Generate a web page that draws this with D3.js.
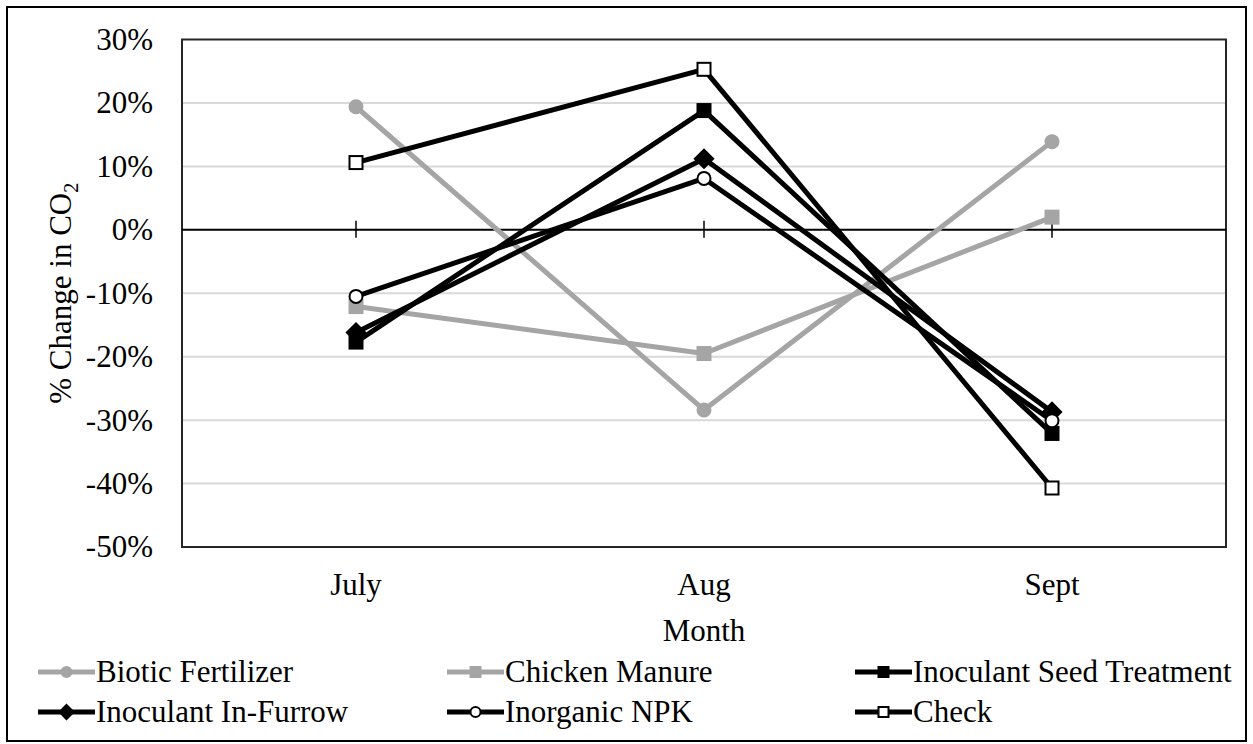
<!DOCTYPE html>
<html>
<head>
<script src="https://cdn.jsdelivr.net/npm/d3@7"></script>
</head>
<body style="margin:0">
<svg id="chart" width="1253" height="744"></svg>
<script>
// data
const months = ['July', 'Aug', 'Sept'];
const yTicks = [0.3, 0.2, 0.1, 0, -0.1, -0.2, -0.3, -0.4, -0.5];

const bioticFertilizer = [0.194, -0.284, 0.139];
const chickenManure = [-0.121, -0.195, 0.020];
const seedTreatment = [-0.177, 0.188, -0.321];
const inFurrow = [-0.162, 0.112, -0.287];
const inorganicNPK = [-0.105, 0.081, -0.301];
const check = [0.106, 0.253, -0.407];

const seriesNames = ['Biotic Fertilizer', 'Chicken Manure', 'Inoculant Seed Treatment',
                     'Inoculant In-Furrow', 'Inorganic NPK', 'Check'];
const seriesValues = [bioticFertilizer, chickenManure, seedTreatment, inFurrow, inorganicNPK, check];

const styles = [
    { color: '#a5a5a5', marker: 'circle', fill: '#a5a5a5' },
    { color: '#a5a5a5', marker: 'square', fill: '#a5a5a5' },
    { color: '#000', marker: 'square', fill: '#000' },
    { color: '#000', marker: 'diamond', fill: '#000' },
    { color: '#000', marker: 'circle', fill: '#fff' },
    { color: '#000', marker: 'square', fill: '#fff' }
];

const FONT = 'Liberation Serif';
const width = 1253, height = 744;
const margin = { top: 39.5, right: 27, bottom: 197, left: 182 };

const svg = d3.select('#chart')
    .attr('font-family', FONT);

// text helper so every label carries the serif face itself
function label(sel, size) {
    return sel.attr('font-family', FONT)
        .style('font-family', `"${FONT}"`)
        .style('font-size', size + 'px');
}

// outer chart border
svg.append('rect')
    .attr('x', 7).attr('y', 7)
    .attr('width', width - 14).attr('height', height - 10)
    .attr('fill', '#fff')
    .attr('stroke', '#000')
    .attr('stroke-width', 2);

const innerW = width - margin.left - margin.right;
const innerH = height - margin.top - margin.bottom;

const chart = svg.append('g')
    .attr('transform', `translate(${margin.left}, ${margin.top})`);

const xscale = d3.scalePoint()
    .domain(months)
    .range([0, innerW])
    .padding(0.5);

const yscale = d3.scaleLinear()
    .domain([-0.5, 0.3])
    .range([innerH, 0]);

// gridlines
chart.append('g')
    .selectAll('line')
    .data(yTicks.filter(d => d !== 0 && d !== 0.3 && d !== -0.5))
    .join('line')
    .attr('x1', 0).attr('x2', innerW)
    .attr('y1', d => yscale(d)).attr('y2', d => yscale(d))
    .attr('stroke', '#d9d9d9')
    .attr('stroke-width', 2);

// y axis labels (plain hyphen for the minus, like the reference)
const pct = d => Math.round(d * 100) + '%';
const yaxis = d3.axisLeft(yscale)
    .tickValues(yTicks)
    .tickFormat(pct)
    .tickSize(0)
    .tickPadding(29);

const yg = chart.append('g')
    .call(yaxis)
    .attr('font-family', FONT)
    .call(g => g.select('.domain').remove());
label(yg.selectAll('text'), 31).attr('fill', '#000');

// plot area border
chart.append('rect')
    .attr('width', innerW).attr('height', innerH)
    .attr('fill', 'none')
    .attr('stroke', '#262626')
    .attr('stroke-width', 2);

// zero axis with cross ticks
chart.append('line')
    .attr('x1', 0).attr('x2', innerW)
    .attr('y1', yscale(0)).attr('y2', yscale(0))
    .attr('stroke', '#000')
    .attr('stroke-width', 2);

chart.append('g')
    .selectAll('line')
    .data(months)
    .join('line')
    .attr('x1', d => xscale(d)).attr('x2', d => xscale(d))
    .attr('y1', yscale(0) - 9).attr('y2', yscale(0) + 8)
    .attr('stroke', '#000')
    .attr('stroke-width', 1.5);

// x category labels
label(chart.append('g')
    .selectAll('text')
    .data(months)
    .join('text'), 31)
    .attr('x', d => xscale(d))
    .attr('y', innerH + 48)
    .attr('text-anchor', 'middle')
    .text(d => d);

// axis titles
label(svg.append('text'), 31)
    .attr('x', margin.left + innerW / 2)
    .attr('y', 641)
    .attr('text-anchor', 'middle')
    .text('Month');

const ytitle = label(svg.append('text'), 31)
    .attr('transform', `translate(71, ${margin.top + innerH / 2}) rotate(-90)`)
    .attr('text-anchor', 'middle');
ytitle.append('tspan').text('% Change in CO');
ytitle.append('tspan').attr('dy', 7).style('font-size', '20px').text('2');

// markers
function drawMarker(g, type, x, y, fill, stroke, s) {
    if (type === 'circle') {
        g.append('circle')
            .attr('cx', x).attr('cy', y).attr('r', s / 2)
            .attr('fill', fill).attr('stroke', stroke).attr('stroke-width', 2);
    } else if (type === 'square') {
        g.append('rect')
            .attr('x', x - s / 2).attr('y', y - s / 2)
            .attr('width', s).attr('height', s)
            .attr('fill', fill).attr('stroke', stroke).attr('stroke-width', 2);
    } else if (type === 'diamond') {
        g.append('path')
            .attr('d', d3.symbol(d3.symbolSquare, s * s)())
            .attr('transform', `translate(${x}, ${y}) rotate(45)`)
            .attr('fill', fill).attr('stroke', stroke).attr('stroke-width', 2);
    }
}

const line = d3.line()
    .x((d, i) => xscale(months[i]))
    .y(d => yscale(d));

seriesValues.forEach((vals, k) => {
    const st = styles[k];
    const g = chart.append('g');
    g.append('path')
        .attr('d', line(vals))
        .attr('fill', 'none')
        .attr('stroke', st.color)
        .attr('stroke-width', 5)
        .attr('stroke-linejoin', 'round');
    vals.forEach((v, i) => {
        drawMarker(g, st.marker, xscale(months[i]), yscale(v), st.fill, st.color, 13);
    });
});

// legend
const legendX = [38, 447, 855];
const legendY = [672, 712];
const legend = svg.append('g');
seriesNames.forEach((name, k) => {
    const st = styles[k];
    const x = legendX[k % 3];
    const y = legendY[Math.floor(k / 3)];
    legend.append('line')
        .attr('x1', x).attr('x2', x + 57)
        .attr('y1', y).attr('y2', y)
        .attr('stroke', st.color)
        .attr('stroke-width', 5);
    drawMarker(legend, st.marker, x + 28.5, y, st.fill, st.color, 10);
    label(legend.append('text'), 31)
        .attr('x', x + 58)
        .attr('y', y)
        .attr('dy', '0.33em')
        .text(name);
});
</script>
</body>
</html>
